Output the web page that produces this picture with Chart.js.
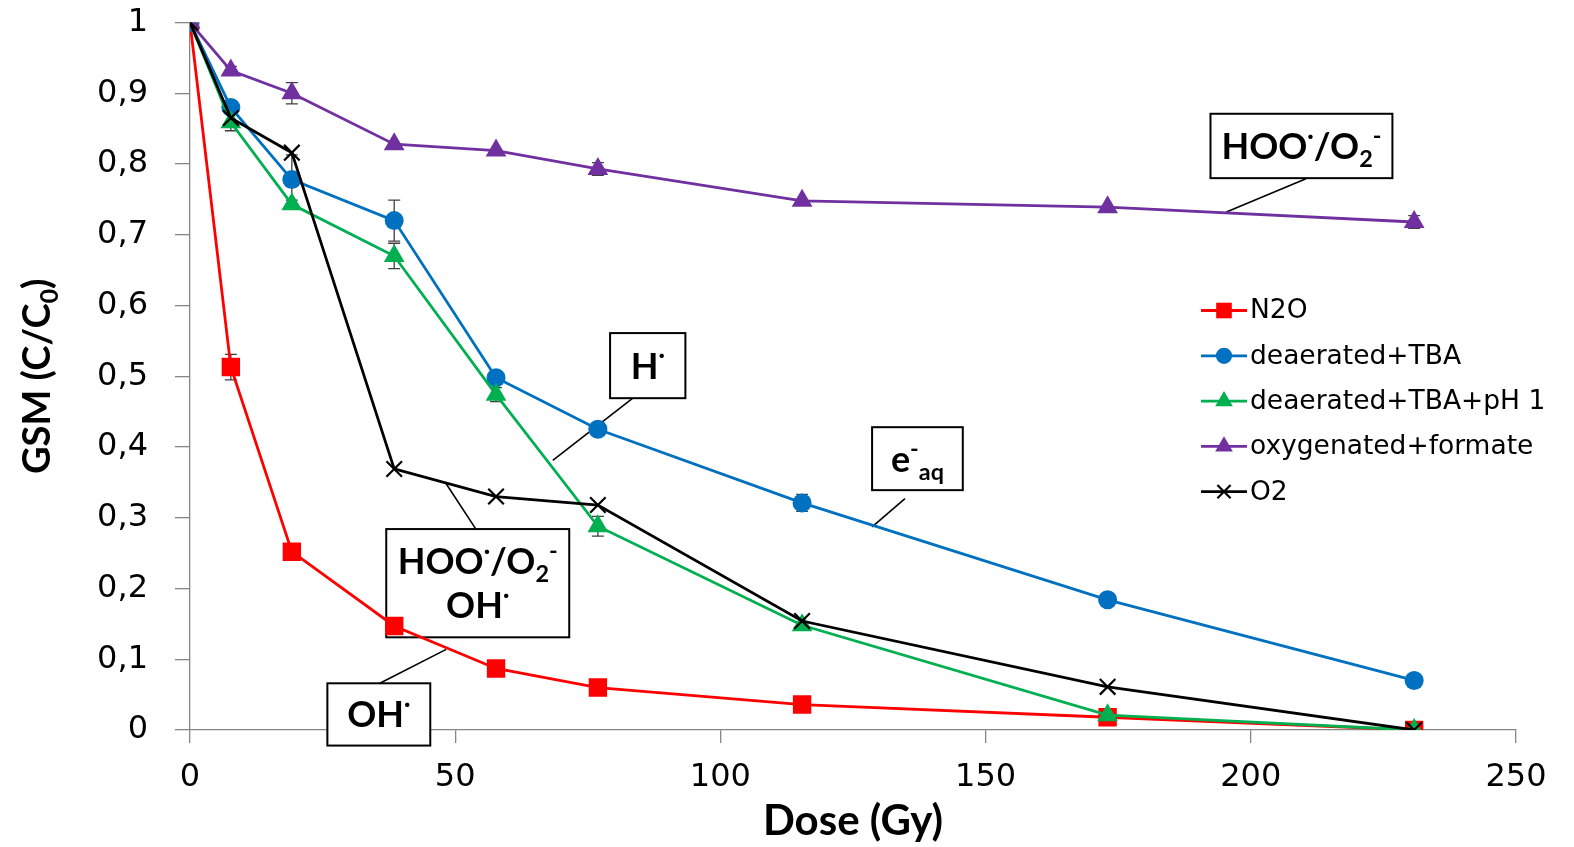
<!DOCTYPE html>
<html>
<head>
<meta charset="utf-8">
<script src="https://cdn.jsdelivr.net/npm/chart.js@4/dist/chart.umd.min.js"></script>
<style>
  html, body { margin: 0; padding: 0; background: #fff; }
  #wrap { width: 1574px; height: 847px; }
</style>
</head>
<body>
<div id="wrap"><canvas id="gsmChart" width="1574" height="847"></canvas></div>
<script>
// doses (Gy)
const doses = [0, 7.7, 19.2, 38.5, 57.7, 76.9, 115.4, 173, 230.8];

// C/C0 per condition
const n2o        = [1, 0.513, 0.252, 0.147, 0.087, 0.060, 0.036, 0.018, 0];
const deaerTBA   = [1, 0.880, 0.778, 0.720, 0.498, 0.425, 0.321, 0.184, 0.070];
const deaerTBApH = [1, 0.859, 0.743, 0.670, 0.474, 0.288, 0.148, 0.021, 0];
const oxyFormate = [1, 0.932, 0.900, 0.828, 0.819, 0.793, 0.748, 0.739, 0.718];
const o2         = [1, 0.865, 0.816, 0.369, 0.330, 0.318, 0.154, 0.061, 0];

// error bars (+/-)
const errN2o        = [0, 0.018, 0, 0, 0.009, 0, 0, 0, 0];
const errDeaerTBA   = [0, 0, 0.035, 0.029, 0, 0, 0.012, 0.007, 0];
const errDeaerTBApH = [0, 0.012, 0.006, 0.018, 0.01, 0.014, 0, 0, 0];
const errOxyFormate = [0, 0.006, 0.015, 0, 0, 0.009, 0, 0, 0.009];
const errO2         = [0, 0, 0, 0, 0, 0, 0, 0, 0];

const seriesNames = ['N2O', 'deaerated+TBA', 'deaerated+TBA+pH 1', 'oxygenated+formate', 'O2'];

const xTickLabels = ['0', '50', '100', '150', '200', '250'];
const yTickLabels = ['0', '0,1', '0,2', '0,3', '0,4', '0,5', '0,6', '0,7', '0,8', '0,9', '1'];

const toPts = arr => arr.map((v, i) => ({ x: doses[i], y: v }));

const datasets = [
  { label: seriesNames[0], data: toPts(n2o), err: errN2o, color: '#FF0000', pointStyle: 'rect', pointRadius: 13, order: 5 },
  { label: seriesNames[1], data: toPts(deaerTBA), err: errDeaerTBA, color: '#0070C0', pointStyle: 'circle', pointRadius: 9.5, order: 4 },
  { label: seriesNames[2], data: toPts(deaerTBApH), err: errDeaerTBApH, color: '#00B050', pointStyle: 'triangle', pointRadius: 12, order: 3 },
  { label: seriesNames[3], data: toPts(oxyFormate), err: errOxyFormate, color: '#7030A0', pointStyle: 'triangle', pointRadius: 12, order: 2 },
  { label: seriesNames[4], data: toPts(o2), err: errO2, color: '#000000', pointStyle: 'crossRot', pointRadius: 11, order: 1 }
].map(d => Object.assign(d, {
  borderColor: d.color,
  backgroundColor: d.color,
  pointBackgroundColor: d.color,
  pointBorderColor: d.color,
  pointBorderWidth: d.pointStyle === 'crossRot' ? 2.2 : 0,
  borderWidth: 2.8,
  tension: 0,
  fill: false
}));

// rich text: segments {t, sub, sup}
function richWidth(ctx, segs, size, family) {
  let w = 0;
  segs.forEach(s => {
    const sz = (s.sub || s.sup) ? size * 0.65 : size;
    ctx.font = 'bold ' + sz + 'px ' + family;
    w += ctx.measureText(s.t).width;
  });
  return w;
}
function drawRich(ctx, segs, x, baseline, size, family) {
  segs.forEach(s => {
    const sz = (s.sub || s.sup) ? size * 0.65 : size;
    ctx.font = 'bold ' + sz + 'px ' + family;
    let dy = 0;
    if (s.sub) dy = size * 0.22;
    if (s.sup) dy = -size * 0.42;
    ctx.fillText(s.t, x, baseline + dy);
    x += ctx.measureText(s.t).width;
  });
}

const fam = 'Lato, "Open Sans", sans-serif';

// callouts in data coordinates
const callouts = [
  { box: [192.4, 0.871, 226.7, 0.780], lines: [[{t:'HOO'},{t:'·',sup:true},{t:'/O'},{t:'2',sub:true},{t:'-',sup:true}]], lead: [210.4, 0.779, 195.4, 0.732] },
  { box: [79.2, 0.561, 93.4, 0.469], lines: [[{t:'H'},{t:'·',sup:true}]], lead: [86.4, 0.486, 68.4, 0.381] },
  { box: [128.6, 0.428, 145.7, 0.339], lines: [[{t:'e'},{t:'-',sup:true},{t:'aq',sub:true}]], lead: [134.8, 0.327, 128.6, 0.287] },
  { box: [37.0, 0.284, 71.5, 0.131], lines: [[{t:'HOO'},{t:'·',sup:true},{t:'/O'},{t:'2',sub:true},{t:'-',sup:true}], [{t:'OH'},{t:'·',sup:true}]], lead: [53.9, 0.284, 48.3, 0.348] },
  { box: [25.9, 0.066, 45.3, -0.022], lines: [[{t:'OH'},{t:'·',sup:true}]], lead: [35.8, 0.066, 48.3, 0.114] }
];

const calloutPlugin = {
  id: 'callouts',
  beforeDatasetsDraw(chart) {
    const ctx = chart.ctx;
    const xs = chart.scales.x, ys = chart.scales.y;
    ctx.save();
    callouts.forEach(c => {
      const x1 = xs.getPixelForValue(c.box[0]), y1 = ys.getPixelForValue(c.box[1]);
      const x2 = xs.getPixelForValue(c.box[2]), y2 = ys.getPixelForValue(c.box[3]);
      ctx.strokeStyle = '#000';
      ctx.lineWidth = 1.6;
      ctx.beginPath();
      ctx.moveTo(xs.getPixelForValue(c.lead[0]), ys.getPixelForValue(c.lead[1]));
      ctx.lineTo(xs.getPixelForValue(c.lead[2]), ys.getPixelForValue(c.lead[3]));
      ctx.stroke();
      ctx.fillStyle = '#fff';
      ctx.fillRect(x1, y1, x2 - x1, y2 - y1);
      ctx.lineWidth = 2;
      ctx.strokeRect(x1, y1, x2 - x1, y2 - y1);
      ctx.fillStyle = '#000';
      ctx.textBaseline = 'alphabetic';
      ctx.textAlign = 'left';
      const size = 36;
      const lh = 44;
      const n = c.lines.length;
      const cy = (y1 + y2) / 2;
      c.lines.forEach((segs, k) => {
        const w = richWidth(ctx, segs, size, fam);
        const base = cy + (k - (n - 1) / 2) * lh + size * 0.36;
        drawRich(ctx, segs, (x1 + x2) / 2 - w / 2, base, size, fam);
      });
    });
    ctx.restore();
  }
};

const errorBarPlugin = {
  id: 'errorBars',
  beforeDatasetsDraw(chart) {
    const ctx = chart.ctx;
    const ys = chart.scales.y;
    ctx.save();
    ctx.strokeStyle = '#404040';
    ctx.lineWidth = 1.3;
    chart.data.datasets.forEach((ds, i) => {
      const meta = chart.getDatasetMeta(i);
      ds.err.forEach((e, j) => {
        if (!e) return;
        const p = meta.data[j];
        const v = ds.data[j].y;
        const yt = ys.getPixelForValue(v + e);
        const yb = ys.getPixelForValue(v - e);
        ctx.beginPath();
        ctx.moveTo(p.x, yt); ctx.lineTo(p.x, yb);
        ctx.moveTo(p.x - 6, yt); ctx.lineTo(p.x + 6, yt);
        ctx.moveTo(p.x - 6, yb); ctx.lineTo(p.x + 6, yb);
        ctx.stroke();
      });
    });
    ctx.restore();
  }
};

const decorPlugin = {
  id: 'decor',
  afterDraw(chart) {
    const ctx = chart.ctx;
    const area = chart.chartArea;
    ctx.save();

    // y axis title with subscript
    ctx.save();
    ctx.translate(36, (area.top + area.bottom) / 2);
    ctx.rotate(-Math.PI / 2);
    const titleSegs = [{t:'GSM (C/C'},{t:'0',sub:true},{t:')'}];
    const tw = richWidth(ctx, titleSegs, 38, fam);
    ctx.fillStyle = '#000';
    drawRich(ctx, titleSegs, -tw / 2, 14, 38, fam);
    ctx.restore();

    // legend
    const lx = area.left + 1011;
    let ly = area.top + 288;
    chart.data.datasets.forEach(ds => {
      ctx.strokeStyle = ds.color;
      ctx.lineWidth = 2.8;
      ctx.beginPath();
      ctx.moveTo(lx, ly); ctx.lineTo(lx + 46, ly);
      ctx.stroke();
      ctx.fillStyle = ds.color;
      ctx.lineWidth = ds.pointBorderWidth;
      Chart.helpers.drawPoint(ctx, {
        pointStyle: ds.pointStyle,
        radius: ds.pointRadius * 0.85,
        rotation: 0,
        borderWidth: ds.pointBorderWidth
      }, lx + 23, ly);
      ctx.fillStyle = '#000';
      ctx.font = '26.5px "DejaVu Sans", sans-serif';
      ctx.textBaseline = 'middle';
      ctx.textAlign = 'left';
      ctx.fillText(ds.label, lx + 49, ly + 1);
      ly += 45.3;
    });
    ctx.restore();
  }
};

new Chart(document.getElementById('gsmChart').getContext('2d'), {
  type: 'line',
  data: { datasets },
  options: {
    responsive: false,
    animation: false,
    layout: { padding: { left: 0, right: 58, top: 0, bottom: 0 } },
    plugins: {
      legend: { display: false },
      tooltip: { enabled: false }
    },
    scales: {
      x: {
        type: 'linear',
        min: 0, max: 250,
        afterFit: s => { s.height = 117; },
        ticks: {
          stepSize: 50,
          color: '#000',
          padding: 15,
          font: { family: '"DejaVu Sans", sans-serif', size: 32 },
          callback: (v, i) => xTickLabels[i]
        },
        grid: { drawOnChartArea: false, drawTicks: true, tickLength: 13, color: '#868686', lineWidth: 1.3 },
        border: { color: '#868686', width: 1.3 },
        title: {
          display: true,
          text: 'Dose (Gy)',
          color: '#000',
          padding: { top: 0, bottom: 0 },
          font: { family: 'Lato, "Open Sans", sans-serif', size: 42, weight: 'bold' }
        }
      },
      y: {
        min: 0, max: 1,
        afterFit: s => { s.width = 190; s.paddingTop = 22.5; s.paddingBottom = 0; },
        ticks: {
          stepSize: 0.1,
          color: '#000',
          padding: 27,
          font: { family: '"DejaVu Sans", sans-serif', size: 32 },
          callback: (v, i) => yTickLabels[i]
        },
        grid: { drawOnChartArea: false, drawTicks: true, tickLength: 15, color: '#868686', lineWidth: 1.3 },
        border: { color: '#868686', width: 1.3 }
      }
    }
  },
  plugins: [calloutPlugin, errorBarPlugin, decorPlugin]
});
</script>
</body>
</html>
